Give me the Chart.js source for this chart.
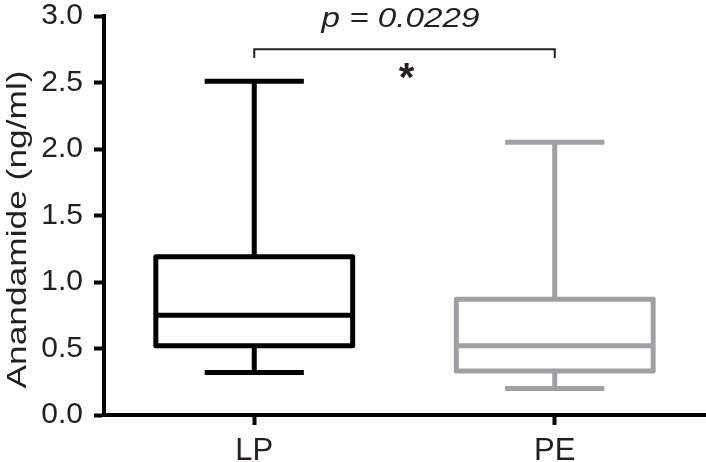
<!DOCTYPE html>
<html>
<head>
<meta charset="utf-8">
<script src="https://cdn.jsdelivr.net/npm/chart.js@4.4.1/dist/chart.umd.min.js"></script>
<style>
  html, body { margin:0; padding:0; background:#fff; }
  #wrap { width:706px; height:462px; position:relative; }
</style>
</head>
<body>
<div id="wrap"><canvas id="c"></canvas></div>
<script>
/* ═══ DATA ═════════════════════════════════════════════ */
const GROUPS  = ['LP', 'PE'];
const MINS    = [0.32, 0.20];
const Q1S     = [0.52, 0.33];
const MEDIANS = [0.75, 0.52];
const Q3S     = [1.19, 0.87];
const MAXS    = [2.51, 2.05];
const Y_TICKS = [0, 0.5, 1.0, 1.5, 2.0, 2.5, 3.0];

const Y_TITLE   = 'Anandamide (ng/ml)';
const P_LABEL   = 'p = 0.0229';
const SIG_LABEL = '*';
const BRACKET_Y = 2.75;   // level of the comparison bracket
const BRACKET_LEG = 2.685;

/* ═══ STYLE ════════════════════════════════════════════ */
const COLORS   = ['#000000', '#a0a0a4'];
const TXT      = '#231f20';
const FONT     = '"Liberation Sans", Arial, Helvetica, sans-serif';
const BOX_FRAC = 0.655;   // box width as part of a category
const CAP_FRAC = 0.33;    // whisker cap width as part of a category

// draw text stretched along its reading direction to a given width
function wideText(ctx, txt, x, y, w) {
  const m = ctx.measureText(txt);
  ctx.save();
  ctx.translate(x, y);
  ctx.scale(w / m.width, 1);
  ctx.fillText(txt, 0, 0);
  ctx.restore();
}

// box, whiskers, bracket and labels — all placed through chart scales
const boxPlot = {
  id: 'boxPlot',
  afterDatasetsDraw(chart) {
    const {ctx, chartArea, scales:{x, y}} = chart;
    const catW = x.getPixelForValue(1) - x.getPixelForValue(0);
    ctx.save();
    ctx.lineJoin = 'round';
    GROUPS.forEach((g, i) => {
      const cx = x.getPixelForValue(i);
      const bh = catW * BOX_FRAC / 2, ch = catW * CAP_FRAC / 2;
      const yMin = y.getPixelForValue(MINS[i]), yQ1 = y.getPixelForValue(Q1S[i]);
      const yMed = y.getPixelForValue(MEDIANS[i]), yQ3 = y.getPixelForValue(Q3S[i]);
      const yMax = y.getPixelForValue(MAXS[i]);
      ctx.strokeStyle = COLORS[i];
      ctx.lineWidth = 5;
      ctx.beginPath();
      // whiskers
      ctx.moveTo(cx, yMax); ctx.lineTo(cx, yQ3);
      ctx.moveTo(cx, yQ1); ctx.lineTo(cx, yMin);
      // caps
      ctx.moveTo(cx - ch, yMax); ctx.lineTo(cx + ch, yMax);
      ctx.moveTo(cx - ch, yMin); ctx.lineTo(cx + ch, yMin);
      ctx.stroke();
      ctx.beginPath();
      ctx.rect(cx - bh, yQ3, 2 * bh, yQ1 - yQ3);
      ctx.stroke();
      ctx.beginPath();
      ctx.moveTo(cx - bh, yMed); ctx.lineTo(cx + bh, yMed);
      ctx.stroke();
    });

    // significance bracket
    const x0 = x.getPixelForValue(0), x1 = x.getPixelForValue(1);
    const yb = y.getPixelForValue(BRACKET_Y), yl = y.getPixelForValue(BRACKET_LEG);
    ctx.strokeStyle = TXT;
    ctx.lineWidth = 2;
    ctx.lineJoin = 'miter';
    ctx.beginPath();
    ctx.moveTo(x0, yl); ctx.lineTo(x0, yb); ctx.lineTo(x1, yb); ctx.lineTo(x1, yl);
    ctx.stroke();

    const mid = (x0 + x1) / 2;
    ctx.fillStyle = TXT;
    ctx.textAlign = 'left';
    ctx.textBaseline = 'alphabetic';
    ctx.font = 'italic 28px ' + FONT;
    wideText(ctx, P_LABEL, mid - 83, yb - 22, 158);

    ctx.textAlign = 'center';
    ctx.font = 'bold 40px ' + FONT;
    const m = ctx.measureText(SIG_LABEL);
    const starMid = yb + 22;
    ctx.fillText(SIG_LABEL, mid + 2, starMid + (m.actualBoundingBoxAscent - m.actualBoundingBoxDescent) / 2);

    // y axis title
    ctx.textAlign = 'left';
    ctx.font = '27px ' + FONT;
    ctx.translate(26, (chartArea.top + chartArea.bottom) / 2 + 14);
    ctx.rotate(-Math.PI / 2);
    wideText(ctx, Y_TITLE, -159, 0, 318);
    ctx.restore();
  }
};

const tickFont = {family: FONT, size: 30, lineHeight: 1};

new Chart(document.getElementById('c'), {
  type: 'bar',
  data: {
    labels: GROUPS,
    datasets: [{
      label: 'IQR',
      data: GROUPS.map((g, i) => [Q1S[i], Q3S[i]]),
      backgroundColor: 'rgba(0,0,0,0)',
      borderWidth: 0,
      categoryPercentage: 1,
      barPercentage: BOX_FRAC
    }]
  },
  options: {
    responsive: true,
    maintainAspectRatio: false,
    animation: false,
    layout: {padding: {top: 16, right: 1, left: 0, bottom: 0}},
    plugins: {legend: {display: false}, tooltip: {enabled: false}},
    scales: {
      x: {
        afterFit: s => { s.height = 47; s.paddingLeft = 0; s.paddingRight = 0; },
        border: {display: true, color: '#000', width: 4},
        grid: {display: true, offset: false, drawOnChartArea: false, drawTicks: true,
               tickLength: 10, tickWidth: 4, tickColor: '#000'},
        ticks: {color: TXT, font: {family: FONT, size: 31}, padding: 8}
      },
      y: {
        min: 0, max: 3,
        afterFit: s => { s.width = 104; s.paddingTop = 0; s.paddingBottom = 0; },
        afterBuildTicks: s => { s.ticks = Y_TICKS.map(v => ({value: v})); },
        border: {display: true, color: '#000', width: 4},
        grid: {display: true, drawOnChartArea: false, drawTicks: true,
               tickLength: 10, tickWidth: 4, tickColor: '#000'},
        ticks: {color: TXT, font: tickFont, padding: 11, callback: v => v.toFixed(1)}
      }
    }
  },
  plugins: [boxPlot]
});
</script>
</body>
</html>
